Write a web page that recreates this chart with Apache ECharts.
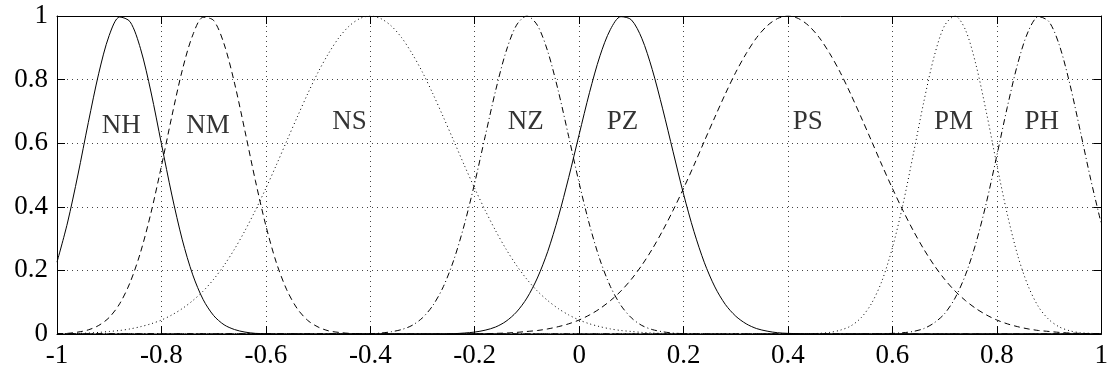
<!DOCTYPE html>
<html>
<head>
<meta charset="utf-8">
<style>
  html, body { margin: 0; padding: 0; background: #fff; }
  #chart { width: 1111px; height: 379px; }
</style>
<script src="https://cdn.jsdelivr.net/npm/echarts@6/dist/echarts.min.js"></script>
</head>
<body>
<div id="chart"></div>
<script>
const xValues = [
  -1.00, -0.98, -0.96, -0.94, -0.92, -0.90, -0.88, -0.86, -0.84, -0.82,
  -0.80, -0.78, -0.76, -0.74, -0.72, -0.70, -0.68, -0.66, -0.64, -0.62,
  -0.60, -0.58, -0.56, -0.54, -0.52, -0.50, -0.48, -0.46, -0.44, -0.42,
  -0.40, -0.38, -0.36, -0.34, -0.32, -0.30, -0.28, -0.26, -0.24, -0.22,
  -0.20, -0.18, -0.16, -0.14, -0.12, -0.10, -0.08, -0.06, -0.04, -0.02,
  0.00, 0.02, 0.04, 0.06, 0.08, 0.10, 0.12, 0.14, 0.16, 0.18,
  0.20, 0.22, 0.24, 0.26, 0.28, 0.30, 0.32, 0.34, 0.36, 0.38,
  0.40, 0.42, 0.44, 0.46, 0.48, 0.50, 0.52, 0.54, 0.56, 0.58,
  0.60, 0.62, 0.64, 0.66, 0.68, 0.70, 0.72, 0.74, 0.76, 0.78,
  0.80, 0.82, 0.84, 0.86, 0.88, 0.90, 0.92, 0.94, 0.96, 0.98,
  1.00
];

const nhValues = [
  0.226, 0.349, 0.500, 0.665, 0.820, 0.939, 0.997, 0.982, 0.897, 0.761,
  0.598, 0.437, 0.296, 0.186, 0.108, 0.058, 0.029, 0.014, 0.006, 0.002,
  0.001, 0, 0, 0, 0, 0, 0, 0, 0, 0,
  0, 0, 0, 0, 0, 0, 0, 0, 0, 0,
  0, 0, 0, 0, 0, 0, 0, 0, 0, 0,
  0, 0, 0, 0, 0, 0, 0, 0, 0, 0,
  0, 0, 0, 0, 0, 0, 0, 0, 0, 0,
  0, 0, 0, 0, 0, 0, 0, 0, 0, 0,
  0, 0, 0, 0, 0, 0, 0, 0, 0, 0,
  0, 0, 0, 0, 0, 0, 0, 0, 0, 0,
  0
];

const nmValues = [
  0.001, 0.002, 0.006, 0.013, 0.027, 0.052, 0.095, 0.162, 0.257, 0.381,
  0.528, 0.685, 0.830, 0.940, 0.996, 0.986, 0.912, 0.789, 0.638, 0.482,
  0.341, 0.225, 0.139, 0.080, 0.043, 0.022, 0.010, 0.005, 0.002, 0.001,
  0, 0, 0, 0, 0, 0, 0, 0, 0, 0,
  0, 0, 0, 0, 0, 0, 0, 0, 0, 0,
  0, 0, 0, 0, 0, 0, 0, 0, 0, 0,
  0, 0, 0, 0, 0, 0, 0, 0, 0, 0,
  0, 0, 0, 0, 0, 0, 0, 0, 0, 0,
  0, 0, 0, 0, 0, 0, 0, 0, 0, 0,
  0, 0, 0, 0, 0, 0, 0, 0, 0, 0,
  0
];

const nsValues = [
  0.001, 0.001, 0.002, 0.003, 0.005, 0.008, 0.011, 0.016, 0.023, 0.032,
  0.044, 0.060, 0.080, 0.105, 0.135, 0.172, 0.216, 0.267, 0.325, 0.389,
  0.458, 0.531, 0.607, 0.682, 0.755, 0.823, 0.882, 0.932, 0.969, 0.992,
  1.000, 0.992, 0.969, 0.932, 0.882, 0.823, 0.755, 0.682, 0.607, 0.531,
  0.458, 0.389, 0.325, 0.267, 0.216, 0.172, 0.135, 0.105, 0.080, 0.060,
  0.044, 0.032, 0.023, 0.016, 0.011, 0.008, 0.005, 0.003, 0.002, 0.001,
  0.001, 0, 0, 0, 0, 0, 0, 0, 0, 0,
  0, 0, 0, 0, 0, 0, 0, 0, 0, 0,
  0, 0, 0, 0, 0, 0, 0, 0, 0, 0,
  0, 0, 0, 0, 0, 0, 0, 0, 0, 0,
  0
];

const nzValues = [
  0, 0, 0, 0, 0, 0, 0, 0, 0, 0,
  0, 0, 0, 0, 0, 0, 0, 0, 0, 0,
  0, 0, 0, 0, 0, 0, 0, 0, 0, 0,
  0.001, 0.003, 0.007, 0.014, 0.027, 0.051, 0.090, 0.149, 0.233, 0.343,
  0.475, 0.621, 0.765, 0.888, 0.971, 1.000, 0.971, 0.888, 0.765, 0.621,
  0.475, 0.343, 0.233, 0.149, 0.090, 0.051, 0.027, 0.014, 0.007, 0.003,
  0.001, 0, 0, 0, 0, 0, 0, 0, 0, 0,
  0, 0, 0, 0, 0, 0, 0, 0, 0, 0,
  0, 0, 0, 0, 0, 0, 0, 0, 0, 0,
  0, 0, 0, 0, 0, 0, 0, 0, 0, 0,
  0
];

const pzValues = [
  0, 0, 0, 0, 0, 0, 0, 0, 0, 0,
  0, 0, 0, 0, 0, 0, 0, 0, 0, 0,
  0, 0, 0, 0, 0, 0, 0, 0, 0, 0,
  0, 0, 0, 0, 0, 0, 0, 0, 0.001, 0.003,
  0.006, 0.012, 0.022, 0.040, 0.069, 0.113, 0.176, 0.260, 0.367, 0.492,
  0.627, 0.760, 0.875, 0.958, 0.998, 0.988, 0.930, 0.832, 0.708, 0.573,
  0.440, 0.322, 0.224, 0.148, 0.093, 0.056, 0.032, 0.017, 0.009, 0.004,
  0.002, 0.001, 0, 0, 0, 0, 0, 0, 0, 0,
  0, 0, 0, 0, 0, 0, 0, 0, 0, 0,
  0, 0, 0, 0, 0, 0, 0, 0, 0, 0,
  0
];

const psValues = [
  0, 0, 0, 0, 0, 0, 0, 0, 0, 0,
  0, 0, 0, 0, 0, 0, 0, 0, 0, 0,
  0, 0, 0, 0, 0, 0, 0, 0, 0, 0,
  0, 0, 0, 0, 0, 0, 0, 0, 0, 0,
  0.001, 0.001, 0.002, 0.003, 0.005, 0.008, 0.011, 0.016, 0.023, 0.032,
  0.044, 0.060, 0.080, 0.105, 0.135, 0.172, 0.216, 0.267, 0.325, 0.389,
  0.458, 0.531, 0.607, 0.682, 0.755, 0.823, 0.882, 0.932, 0.969, 0.992,
  1.000, 0.992, 0.969, 0.932, 0.882, 0.823, 0.755, 0.682, 0.607, 0.531,
  0.458, 0.389, 0.325, 0.267, 0.216, 0.172, 0.135, 0.105, 0.080, 0.060,
  0.044, 0.032, 0.023, 0.016, 0.011, 0.008, 0.005, 0.003, 0.002, 0.001,
  0.001
];

const pmValues = [
  0, 0, 0, 0, 0, 0, 0, 0, 0, 0,
  0, 0, 0, 0, 0, 0, 0, 0, 0, 0,
  0, 0, 0, 0, 0, 0, 0, 0, 0, 0,
  0, 0, 0, 0, 0, 0, 0, 0, 0, 0,
  0, 0, 0, 0, 0, 0, 0, 0, 0, 0,
  0, 0, 0, 0, 0, 0, 0, 0, 0, 0,
  0, 0, 0, 0, 0, 0, 0, 0, 0, 0,
  0, 0, 0.001, 0.002, 0.005, 0.012, 0.025, 0.051, 0.096, 0.167,
  0.271, 0.406, 0.565, 0.729, 0.873, 0.970, 1.000, 0.956, 0.847, 0.697,
  0.532, 0.377, 0.247, 0.151, 0.085, 0.045, 0.022, 0.010, 0.004, 0.002,
  0.001
];

const phValues = [
  0, 0, 0, 0, 0, 0, 0, 0, 0, 0,
  0, 0, 0, 0, 0, 0, 0, 0, 0, 0,
  0, 0, 0, 0, 0, 0, 0, 0, 0, 0,
  0, 0, 0, 0, 0, 0, 0, 0, 0, 0,
  0, 0, 0, 0, 0, 0, 0, 0, 0, 0,
  0, 0, 0, 0, 0, 0, 0, 0, 0, 0,
  0, 0, 0, 0, 0, 0, 0, 0, 0, 0,
  0, 0, 0, 0, 0, 0, 0, 0, 0, 0.001,
  0.002, 0.004, 0.008, 0.017, 0.035, 0.064, 0.113, 0.186, 0.286, 0.413,
  0.561, 0.713, 0.850, 0.951, 0.998, 0.982, 0.907, 0.785, 0.637, 0.485,
  0.347
];

// text labels placed over each curve
const labelNames = ['NH', 'NM', 'NS', 'NZ', 'PZ', 'PS', 'PM', 'PH'];
const labelX = [-0.877, -0.711, -0.44, -0.102, 0.083, 0.438, 0.717, 0.886];
const labelY = [0.654, 0.654, 0.666, 0.666, 0.666, 0.666, 0.666, 0.666];

const xTickLabels = ['-1', '-0.8', '-0.6', '-0.4', '-0.2', '0', '0.2', '0.4', '0.6', '0.8', '1'];
const yTickLabels = ['0', '0.2', '0.4', '0.6', '0.8', '1'];

const FONT = '"Liberation Serif", "Times New Roman", Times, serif';
const DASHED = [6, 4];
const DOTTED = [1, 3];
const DASH_DOT = [6, 3, 1, 3];

const curves = [
  { values: nhValues, dash: 'solid' },
  { values: nmValues, dash: DASHED },
  { values: nsValues, dash: DOTTED },
  { values: nzValues, dash: DASH_DOT },
  { values: pzValues, dash: 'solid' },
  { values: psValues, dash: DASHED },
  { values: pmValues, dash: DOTTED },
  { values: phValues, dash: DASH_DOT },
];

const chart = echarts.init(document.getElementById('chart'), null, { renderer: 'canvas' });

const gridLine = { show: true, lineStyle: { color: '#444', type: [1, 4], width: 1 } };
const tickIn = { show: true, inside: true, length: 8, lineStyle: { color: '#000' } };
const edgeLine = { show: true, onZero: false, lineStyle: { color: '#000' } };

chart.setOption({
  animation: false,
  backgroundColor: '#fff',
  grid: {
    left: 57,
    right: 8,
    top: 16,
    bottom: 45,
  },
  xAxis: [
    {
      type: 'value',
      min: -1,
      max: 1,
      interval: 0.2,
      axisLine: edgeLine,
      axisTick: tickIn,
      splitLine: gridLine,
      axisLabel: {
        margin: 8,
        color: '#000',
        fontFamily: FONT,
        fontSize: 27,
        formatter: (v) => xTickLabels[Math.round((v + 1) / 0.2)],
      },
    },
    {
      type: 'value',
      position: 'top',
      min: -1,
      max: 1,
      interval: 0.2,
      axisLine: edgeLine,
      axisTick: tickIn,
      splitLine: { show: false },
      axisLabel: { show: false },
    },
  ],
  yAxis: [
    {
      type: 'value',
      min: 0,
      max: 1,
      interval: 0.2,
      axisLine: edgeLine,
      axisTick: tickIn,
      splitLine: gridLine,
      axisLabel: {
        margin: 9,
        color: '#000',
        fontFamily: FONT,
        fontSize: 27,
        formatter: (v) => yTickLabels[Math.round(v / 0.2)],
      },
    },
    {
      type: 'value',
      position: 'right',
      min: 0,
      max: 1,
      interval: 0.2,
      axisLine: edgeLine,
      axisTick: tickIn,
      splitLine: { show: false },
      axisLabel: { show: false },
    },
  ],
  series: [
    ...curves.map((c) => ({
      type: 'line',
      xAxisIndex: 0,
      yAxisIndex: 0,
      symbol: 'none',
      smooth: 0.3,
      data: xValues.map((x, i) => [x, c.values[i]]),
      lineStyle: { color: '#000', width: 1, type: c.dash },
      silent: true,
    })),
    {
      type: 'scatter',
      symbolSize: 1,
      itemStyle: { color: 'transparent' },
      silent: true,
      data: labelNames.map((name, i) => [labelX[i], labelY[i], name]),
      label: {
        show: true,
        position: 'inside',
        formatter: (p) => p.data[2],
        color: '#000',
        fontFamily: FONT,
        fontSize: 27,
      },
    },
  ],
});
</script>
</body>
</html>
